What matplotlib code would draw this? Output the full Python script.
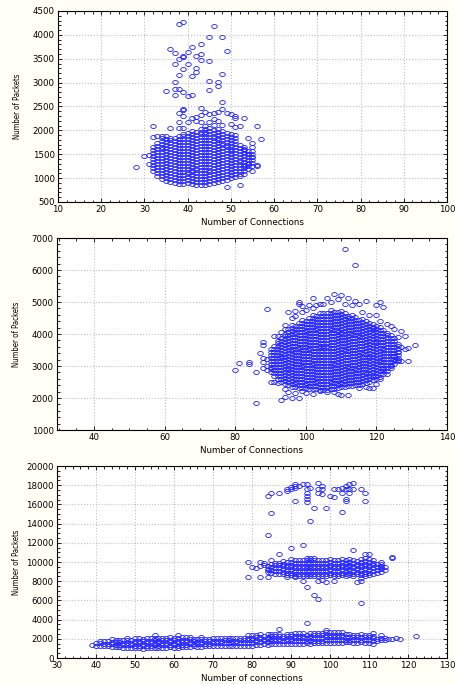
import matplotlib.pyplot as plt
from matplotlib.ticker import MultipleLocator, AutoMinorLocator
from matplotlib.path import Path
from matplotlib.transforms import Affine2D
import numpy as np

# ---- panel 1: dense core given as column extents (x, lowest y, highest y)
p1_core_x = [32, 33, 34, 35, 36, 37, 38, 39, 40, 41, 42, 43,
             44, 45, 46, 47, 48, 49, 50, 51, 52, 53, 54, 55]
p1_core_lo = [1150, 1050, 980, 950, 920, 900, 880, 880, 890, 870, 850, 860,
              860, 870, 900, 920, 940, 960, 1000, 1030, 1080, 1150, 1200, 1250]
p1_core_hi = [1700, 1760, 1870, 1880, 1880, 1890, 1910, 1950, 1980, 2000, 2010, 2040,
              2060, 2070, 2070, 2060, 2040, 2010, 1970, 1900, 1760, 1690, 1600, 1550]
p1_out_x = [38, 39, 46, 45, 48, 41, 43, 36, 37, 40, 49, 39, 39, 38, 42, 43, 43, 45,
            37, 40, 39, 42, 42, 41, 38, 48, 45, 47, 47, 37, 35, 37, 38, 39, 37, 40,
            41, 45, 48, 48, 39, 39, 43, 44, 46, 47, 38, 39, 41, 42, 43, 45, 49, 50,
            51, 51, 53, 42, 43, 45, 47, 38, 32, 56, 52, 51, 36, 38, 39, 54, 57, 55,
            28, 30, 31, 49, 52, 56, 56, 55, 53, 52, 44, 46, 48, 50, 40, 46, 53, 54,
            55, 55, 54, 53, 55, 31, 32, 33, 34]
p1_out_y = [4230, 4260, 4190, 3960, 3960, 3740, 3800, 3700, 3630, 3640, 3660, 3560,
            3530, 3500, 3550, 3590, 3480, 3450, 3390, 3390, 3290, 3300, 3230, 3140,
            3150, 3190, 3040, 3010, 2930, 3020, 2830, 2870, 2870, 2800, 2745, 2715,
            2745, 2840, 2600, 2450, 2450, 2425, 2470, 2380, 2370, 2375, 2355, 2300,
            2250, 2285, 2330, 2350, 2370, 2340, 2310, 2250, 2260, 2200, 2180, 2180,
            2200, 2180, 2100, 2100, 2090, 2070, 2055, 2055, 2045, 1830, 1815, 1745,
            1225, 1470, 1490, 815, 860, 1280, 1260, 1140, 1085, 1050, 2100, 2120,
            2110, 2140, 2180, 2240, 1600, 1500, 1450, 1650, 1300, 1250, 1560, 1300,
            1870, 1880, 1880]

# ---- panel 2
p2_core_x = list(range(90, 127))
p2_core_lo = [2800, 2700, 2600, 2500, 2450, 2400, 2350, 2330, 2320, 2310, 2300, 2290,
              2280, 2270, 2260, 2260, 2260, 2270, 2280, 2300, 2330, 2350, 2370, 2390,
              2400, 2420, 2440, 2460, 2500, 2550, 2600, 2650, 2750, 2850, 2950, 3050, 3150]
p2_core_hi = [3600, 3700, 3800, 3900, 4050, 4200, 4300, 4350, 4400, 4450, 4500, 4550,
              4600, 4650, 4700, 4720, 4740, 4760, 4760, 4760, 4760, 4700, 4650, 4600,
              4560, 4520, 4480, 4430, 4390, 4350, 4300, 4250, 4200, 4100, 4000, 3900, 3750]
p2_out_x = [111, 114, 80, 81, 84, 84, 86, 86, 89, 87, 88, 88, 88, 89, 89, 88, 89, 88,
            90, 91, 92, 93, 94, 96, 98, 94, 95, 91, 102, 106, 108, 110, 112, 114, 117,
            121, 120, 122, 120, 98, 98, 99, 101, 104, 95, 97, 94, 127, 128, 131, 129,
            128, 129, 123, 119, 118, 112, 110, 109, 102, 104, 100, 97, 106, 108, 99,
            103, 105, 107, 109, 111, 113, 115, 116, 118, 121, 123, 124, 125, 126, 127,
            126, 125, 126, 127, 124, 122, 121, 120, 117, 115, 92, 93, 94, 96, 97, 99,
            100, 102, 119]
p2_out_y = [6660, 6170, 2880, 3080, 3110, 3060, 2800, 1850, 4770, 3420, 3740, 3660,
            3260, 3210, 2880, 2950, 3000, 3130, 2500, 2500, 2480, 1940, 2040, 2000,
            2000, 2270, 2200, 3940, 5140, 5120, 5260, 5230, 5140, 5040, 5020, 4990,
            4910, 4840, 4580, 5000, 4940, 4860, 4910, 4940, 4700, 4720, 4270, 4100,
            3950, 3660, 3560, 3520, 3160, 2740, 2300, 2300, 2090, 2090, 2140, 2110,
            2210, 2150, 2150, 2200, 2180, 2230, 4900, 4950, 5000, 5100, 4950, 4900,
            4950, 4700, 4600, 4400, 4300, 4250, 4150, 3900, 3600, 3450, 3300, 3200,
            3150, 3000, 2900, 2600, 2450, 2350, 2300, 3950, 4050, 4150, 4500, 4550,
            4700, 4750, 4800, 4200]

# ---- panel 3: lower band, middle band, upper cluster
p3_low_x = list(range(40, 115))
p3_low_lo = [1300, 1250, 1200, 1200, 1150, 1100, 1100, 1050, 1050, 1050, 1000, 1000,
             950, 1000, 1000, 1050, 1000, 1050, 1050, 1100, 1050, 1000, 1100, 1100,
             1150, 1200, 1150, 1150, 1200, 1200, 1250, 1250, 1250, 1300, 1300, 1250,
             1250, 1300, 1300, 1300, 1300, 1350, 1400, 1450, 1400, 1450, 1450, 1450,
             1500, 1450, 1450, 1500, 1500, 1500, 1550, 1500, 1550, 1550, 1550, 1600,
             1600, 1600, 1600, 1600, 1650, 1650, 1600, 1600, 1650, 1600, 1600, 1500,
             1750, 1850, 1850]
p3_low_hi = [1600, 1800, 1850, 1950, 2000, 2000, 2050, 2100, 2150, 2100, 2150, 2150,
             2200, 2250, 2300, 2400, 2300, 2250, 2250, 2300, 2350, 2350, 2250, 2300,
             2250, 2200, 2200, 2250, 2150, 2200, 2150, 2150, 2200, 2150, 2200, 2250,
             2200, 2250, 2300, 2450, 2450, 2450, 2500, 2500, 2550, 2550, 2550, 2600,
             2550, 2600, 2650, 2600, 2700, 2650, 2600, 2600, 2650, 2700, 2850, 2750,
             2750, 2800, 2850, 2750, 2700, 2650, 2650, 2550, 2500, 2500, 2450, 2600,
             2200, 2350, 2350]
p3_mid_x = list(range(84, 115))
p3_mid_lo = [9000, 8900, 8800, 8800, 8700, 8600, 8600, 8500, 8500, 8500, 8500, 8500,
             8500, 8500, 8500, 8500, 8600, 8500, 8500, 8600, 8500, 8600, 8500, 8700,
             8600, 8700, 8600, 8800, 8900, 9000, 9200]
p3_mid_hi = [9800, 9900, 10000, 10100, 10200, 10200, 10300, 10300, 10400, 10400, 10500,
             10500, 10500, 10400, 10400, 10400, 10500, 10400, 10300, 10300, 10400, 10300,
             10300, 10300, 10300, 10400, 10300, 10200, 10000, 9900, 9600]
p3_out_x = [39, 117, 118, 122, 87, 94, 99, 115, 116, 113,
            79, 79, 82, 84, 80, 82, 83, 84, 85, 90, 93, 87, 106, 110, 109, 116, 116,
            113, 113, 89, 91, 93, 94, 96, 97, 97, 99, 98, 101, 107, 108, 108, 109, 108,
            81, 82, 83,
            84, 85, 85, 84, 87, 89, 89, 90, 90, 91, 91, 91, 91, 92, 93, 94, 94, 94, 94,
            94, 94, 95, 96, 95, 97, 97, 97, 98, 98, 98, 100, 101, 99, 101, 102, 103,
            103, 103, 104, 104, 104, 105, 105, 104, 106, 106, 108, 109, 109, 105]
p3_out_y = [1400, 2080, 1980, 2280, 3030, 3600, 2950, 1950, 2000, 2400,
            9950, 8390, 8420, 8390, 9430, 9950, 9700, 9190, 10230, 11500, 11720, 10800,
            11200, 10800, 10850, 10570, 10400, 9460, 9980, 8420, 8420, 8040, 7380, 6520,
            6170, 8040, 7870, 8150, 8040, 7870, 8300, 7970, 8560, 5720, 9400, 9600, 9900,
            16880, 17230, 15080, 12860, 17230, 17400, 17570, 17570, 17780, 17920, 18090,
            17740, 16400, 17920, 18090, 18090, 17570, 17230, 16880, 16530, 16290, 17740,
            15670, 14280, 17570, 17230, 18190, 17920, 17570, 17050, 16880, 16810, 15600,
            17570, 17570, 17740, 17230, 15180, 17570, 17920, 16390, 17570, 17160, 16530,
            17570, 18190, 17570, 17230, 16390, 18090]

BLUE = '#1f1fff'
# flattened open circle, as in the source picture
ELLIPSE = Path.unit_circle().transformed(Affine2D().scale(1.0, 0.72))


def column_points(xs, lows, highs, step):
    px, py = [], []
    for x, lo, hi in zip(xs, lows, highs):
        ys = np.arange(lo, hi + 1, step)
        px.extend([x] * len(ys))
        py.extend(ys)
    return px, py


def style_axes(ax, xlim, xmajor, xminor, ylim, ymajor, yminor, xlabel):
    ax.set_facecolor('white')
    ax.set_xlim(*xlim)
    ax.set_ylim(*ylim)
    ax.xaxis.set_major_locator(MultipleLocator(xmajor))
    ax.xaxis.set_minor_locator(AutoMinorLocator(xminor))
    ax.yaxis.set_major_locator(MultipleLocator(ymajor))
    ax.yaxis.set_minor_locator(AutoMinorLocator(yminor))
    ax.grid(True, which='major', color='#c0c0c0', linestyle=':', linewidth=0.8)
    ax.set_axisbelow(True)
    ax.tick_params(which='both', direction='in', top=True, right=True,
                   labelsize=6.2, pad=2.5, width=0.6)
    ax.tick_params(which='major', length=3)
    ax.tick_params(which='minor', length=1.8)
    for s in ax.spines.values():
        s.set_linewidth(0.8)
    ax.set_xlabel(xlabel, fontsize=6.3, va='center')
    ax.xaxis.set_label_coords(0.5, -0.105)
    ax.set_ylabel('Number of Packets', fontsize=5.6,
                  family=['Liberation Sans Narrow', 'DejaVu Sans'],
                  fontstretch='condensed', va='center')
    ax.yaxis.set_label_coords(-0.104, 0.5)


def scatter(ax, x, y):
    ax.plot(x, y, linestyle='none', marker=ELLIPSE, markersize=4.0,
            markerfacecolor='none', markeredgecolor=BLUE, markeredgewidth=0.6)


fig = plt.figure(figsize=(4.56, 6.84), dpi=100, facecolor='#fffff6')
ax1 = fig.add_axes([58 / 456, 1 - 202 / 684, 389 / 456, 191 / 684])
ax2 = fig.add_axes([57 / 456, 1 - 430 / 684, 390 / 456, 192 / 684])
ax3 = fig.add_axes([57 / 456, 1 - 658 / 684, 390 / 456, 192 / 684])

cx, cy = column_points(p1_core_x, p1_core_lo, p1_core_hi, 62)
scatter(ax1, cx + p1_out_x, cy + p1_out_y)
style_axes(ax1, (10, 100), 10, 5, (500, 4500), 500, 5, 'Number of Connections')

cx, cy = column_points(p2_core_x, p2_core_lo, p2_core_hi, 92)
scatter(ax2, cx + p2_out_x, cy + p2_out_y)
style_axes(ax2, (29.5, 140), 20, 4, (1000, 7000), 1000, 5, 'Number of Connections')

lx, ly = column_points(p3_low_x, p3_low_lo, p3_low_hi, 270)
mx, my = column_points(p3_mid_x, p3_mid_lo, p3_mid_hi, 280)
scatter(ax3, lx + mx + p3_out_x, ly + my + p3_out_y)
style_axes(ax3, (30, 130), 10, 5, (0, 20000), 2000, 4, 'Number of connections')

fig.savefig('out.png', dpi=100, facecolor=fig.get_facecolor())
